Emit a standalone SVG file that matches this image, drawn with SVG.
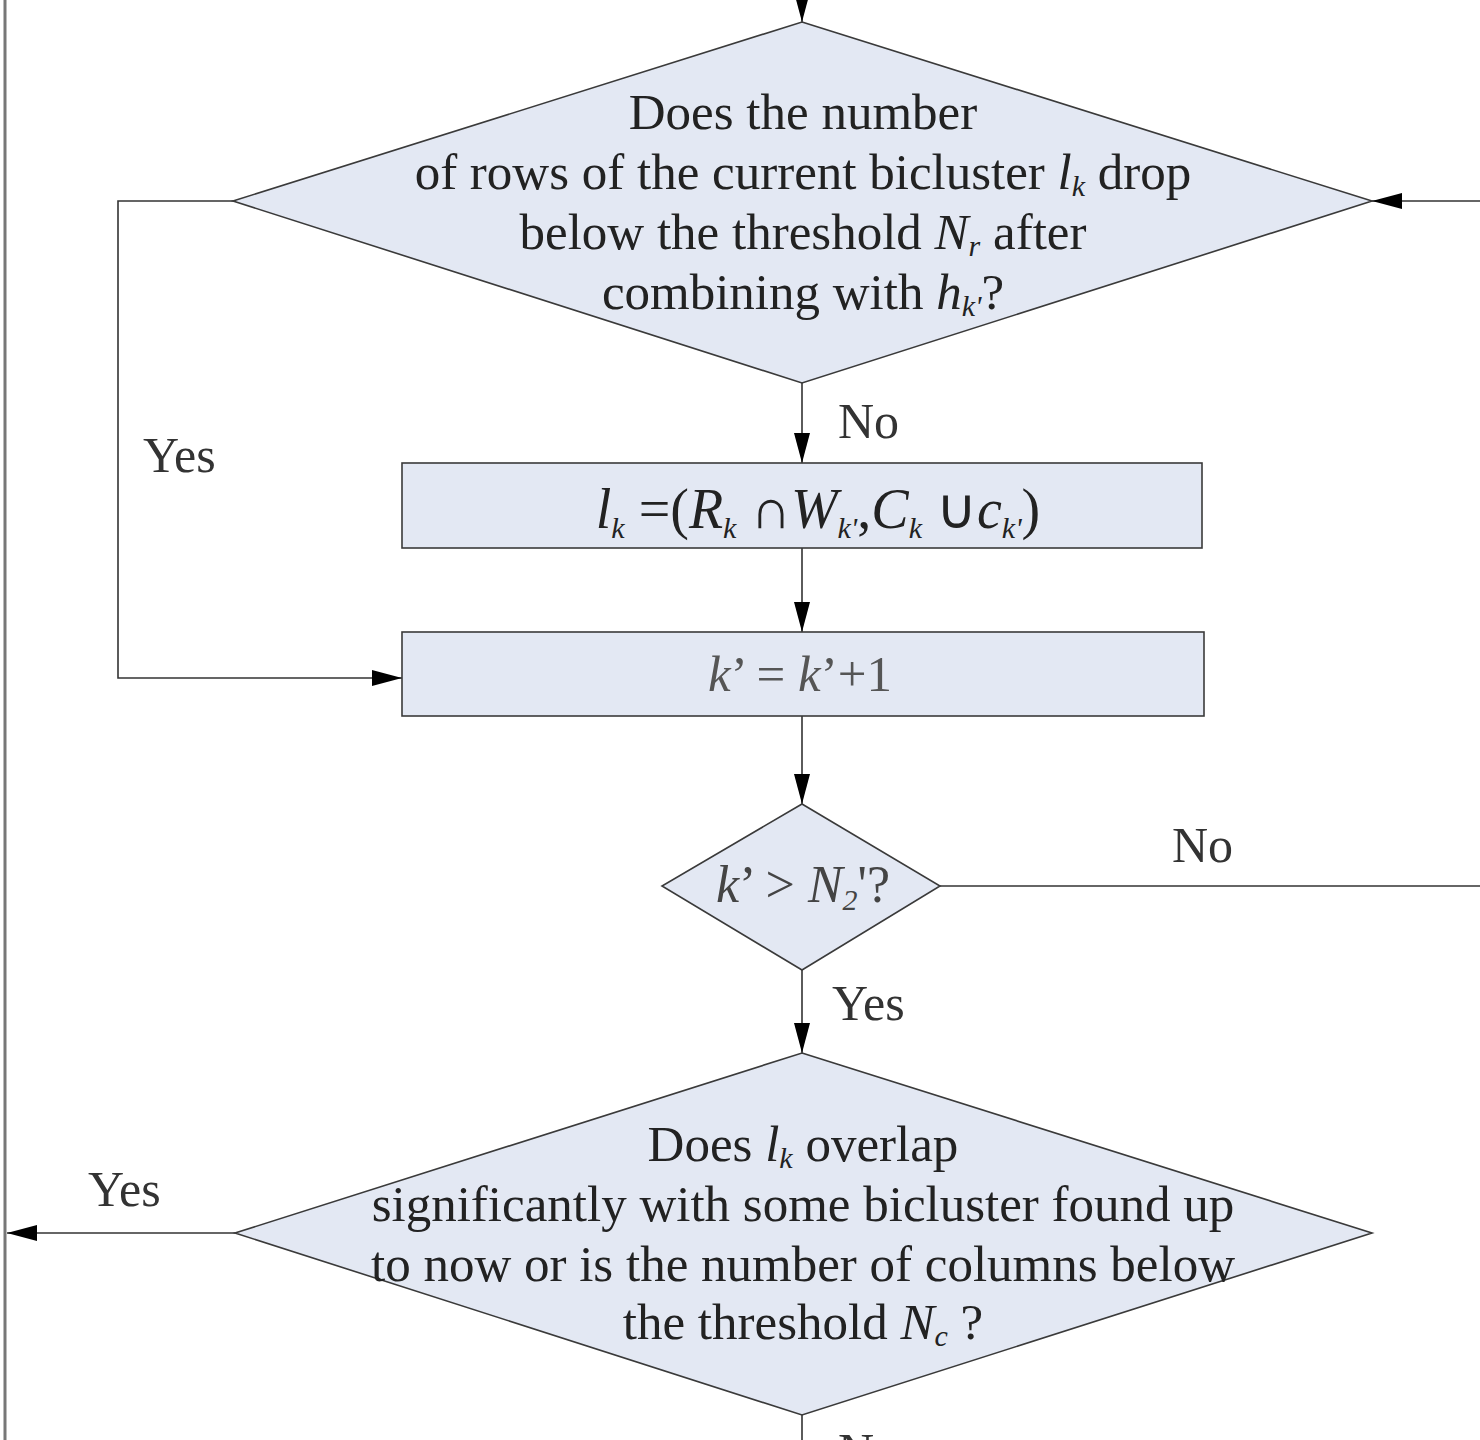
<svg xmlns="http://www.w3.org/2000/svg" width="1480" height="1440" viewBox="0 0 1480 1440">
<defs>
<style>
.node{fill:#e3e8f3;stroke:#3a3a3a;stroke-width:1.6}
.conn{fill:none;stroke:#333;stroke-width:1.6}
.t{font-family:"Liberation Serif","Times New Roman",serif;font-size:51px;fill:#222;text-anchor:middle}
.lbl{font-family:"Liberation Serif","Times New Roman",serif;font-size:50px;fill:#333}
.i{font-style:italic}
.s{font-size:30px;font-style:italic}
</style>
<marker id="arr" viewBox="0 0 30 16" refX="30" refY="8" markerWidth="30" markerHeight="16" markerUnits="userSpaceOnUse" orient="auto">
<path d="M0,0 L30,8 L0,16 Z" fill="#000"/>
</marker>
</defs>
<rect width="1480" height="1440" fill="#fff"/>
<g id="connectors">
<line x1="5" y1="0" x2="5" y2="1440" stroke="#777" stroke-width="3"/>
<line class="conn" x1="802" y1="0" x2="802" y2="22" marker-end="url(#arr)"/>
<line class="conn" x1="802" y1="383" x2="802" y2="463" marker-end="url(#arr)"/>
<line class="conn" x1="802" y1="548" x2="802" y2="632" marker-end="url(#arr)"/>
<polyline class="conn" points="233,201 118,201 118,678 402,678" marker-end="url(#arr)"/>
<line class="conn" x1="802" y1="716" x2="802" y2="804" marker-end="url(#arr)"/>
<line class="conn" x1="940" y1="886" x2="1480" y2="886"/>
<line class="conn" x1="1480" y1="201" x2="1372" y2="201" marker-end="url(#arr)"/>
<line class="conn" x1="802" y1="970" x2="802" y2="1053" marker-end="url(#arr)"/>
<line class="conn" x1="235" y1="1233" x2="7" y2="1233" marker-end="url(#arr)"/>
<line class="conn" x1="802" y1="1415" x2="802" y2="1440"/>
<text class="lbl" x="838" y="438">No</text>
<text class="lbl" x="143" y="472">Yes</text>
<text class="lbl" x="1172" y="862">No</text>
<text class="lbl" x="832" y="1020">Yes</text>
<text class="lbl" x="88" y="1206">Yes</text>
<text class="lbl" x="838" y="1468">No</text>
</g>
<g id="d1">
<polygon class="node" points="802,22 1372,201 802,383 233,201"/>
<text class="t" x="803" y="129">Does the number</text>
<text class="t" x="803" y="189">of rows of the current bicluster <tspan class="i">l</tspan><tspan class="s" dy="7">k</tspan><tspan dy="-7"> drop</tspan></text>
<text class="t" x="803" y="249">below the threshold <tspan class="i">N</tspan><tspan class="s" dy="7">r</tspan><tspan dy="-7"> after</tspan></text>
<text class="t" x="803" y="309">combining with <tspan class="i">h</tspan><tspan class="s" dy="7">k'</tspan><tspan dy="-7">?</tspan></text>
</g>
<g id="r1">
<rect class="node" x="402" y="463" width="800" height="85"/>
<text class="t" x="818" y="528" style="font-size:56px"><tspan class="i">l</tspan><tspan class="s" dy="10">k</tspan><tspan dy="-10"> =(</tspan><tspan class="i">R</tspan><tspan class="s" dy="10">k</tspan><tspan dy="-10"> ∩</tspan><tspan class="i">W</tspan><tspan class="s" dy="10">k'</tspan><tspan dy="-10">,</tspan><tspan class="i">C</tspan><tspan class="s" dy="10">k</tspan><tspan dy="-10"> ∪</tspan><tspan class="i">c</tspan><tspan class="s" dy="10">k'</tspan><tspan dy="-10">)</tspan></text>
</g>
<g id="r2">
<rect class="node" x="402" y="632" width="802" height="84"/>
<text class="t" x="800" y="691" style="fill:#555"><tspan class="i">k</tspan>’ = <tspan class="i">k</tspan>’+1</text>
</g>
<g id="d2">
<polygon class="node" points="802,804 940,886 802,970 662,886"/>
<text class="t" x="803" y="902" style="fill:#444;font-size:52px"><tspan class="i">k</tspan>’ &gt; <tspan class="i">N</tspan><tspan class="s" dy="8">2</tspan><tspan dy="-8">'?</tspan></text>
</g>
<g id="d3">
<polygon class="node" points="802,1053 1372,1233 802,1415 235,1233"/>
<text class="t" x="803" y="1161">Does <tspan class="i">l</tspan><tspan class="s" dy="7">k</tspan><tspan dy="-7"> overlap</tspan></text>
<text class="t" x="803" y="1221">significantly with some bicluster found up</text>
<text class="t" x="803" y="1281">to now or is the number of columns below</text>
<text class="t" x="803" y="1339">the threshold <tspan class="i">N</tspan><tspan class="s" dy="7">c</tspan><tspan dy="-7"> ?</tspan></text>
</g>
</svg>
